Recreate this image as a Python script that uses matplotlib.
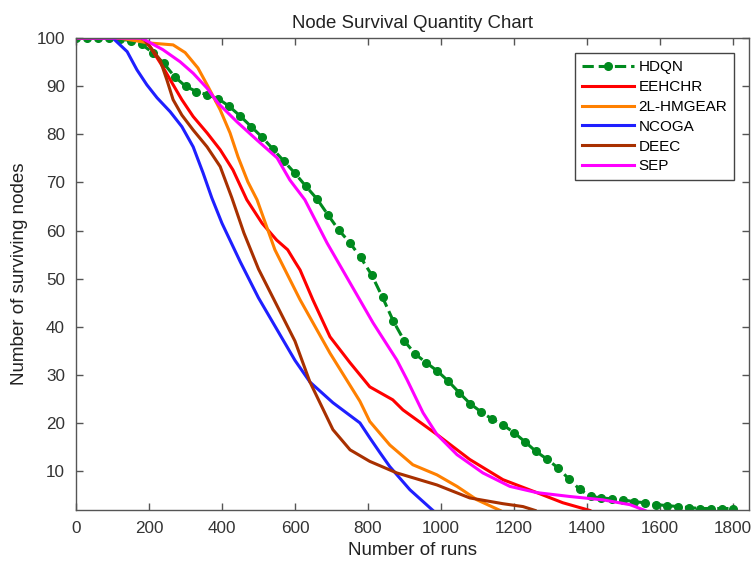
import numpy as np
import matplotlib.pyplot as plt

plt.rcParams['font.family'] = ['Liberation Sans', 'DejaVu Sans']

# HDQN sampled every 30 runs
hdqn_x = [0, 30, 60, 90, 120, 150, 180, 210, 240, 270, 300, 330, 360, 390, 420, 450,
          480, 510, 540, 570, 600, 630, 660, 690, 720, 750, 780, 810, 840, 870, 900,
          930, 960, 990, 1020, 1050, 1080, 1110, 1140, 1170, 1200, 1230, 1260, 1290,
          1320, 1350, 1380, 1410, 1440, 1470, 1500, 1530, 1560, 1590, 1620, 1650,
          1680, 1710, 1740, 1770, 1800]
hdqn_y = [100, 100, 100, 100, 99.8, 99.5, 98.7, 97.0, 94.8, 92.0, 90.0, 88.9, 88.2,
          87.4, 85.8, 83.8, 81.6, 79.4, 76.9, 74.4, 71.9, 69.2, 66.6, 63.3, 60.1,
          57.5, 54.4, 50.8, 46.1, 41.1, 37.0, 34.3, 32.5, 30.8, 28.7, 26.3, 24.0,
          22.3, 20.8, 19.6, 18.0, 16.1, 14.1, 12.5, 10.7, 8.4, 6.2, 4.7, 4.4, 4.2,
          4.0, 3.6, 3.4, 3.0, 2.8, 2.6, 2.4, 2.2, 2.2, 2.2, 2.2]

eehchr_x = [0, 180, 203, 238, 263, 290, 321, 359, 395, 430, 468, 510, 550, 580, 600,
            614, 649, 696, 751, 805, 868, 896, 989, 1079, 1170, 1263, 1334, 1408]
eehchr_y = [100, 100, 98.2, 94.0, 90.7, 87.2, 83.7, 80.3, 76.8, 72.6, 66.4, 61.5,
            58.0, 56.0, 53.5, 51.8, 45.6, 37.9, 32.5, 27.5, 24.8, 22.7, 17.6, 12.4,
            8.2, 5.5, 3.4, 1.8]

hmgear_x = [0, 120, 200, 266, 299, 334, 362, 395, 422, 444, 471, 496, 545, 614, 696,
            778, 805, 860, 923, 989, 1044, 1099, 1162]
hmgear_y = [100, 100, 99.0, 98.6, 97.0, 93.8, 89.9, 85.1, 80.3, 75.3, 70.1, 66.4,
            56.0, 45.6, 34.5, 24.5, 20.3, 15.4, 11.3, 9.2, 6.8, 4.0, 1.8]

ncoga_x = [0, 101, 140, 167, 194, 222, 258, 290, 321, 348, 372, 400, 450, 500, 550,
           600, 641, 704, 778, 805, 833, 860, 915, 978]
ncoga_y = [100, 100, 97.2, 93.4, 90.3, 87.6, 84.7, 81.6, 77.4, 72.0, 66.8, 61.5,
           53.5, 46.0, 39.5, 33.0, 28.5, 24.2, 20.0, 16.9, 13.8, 10.9, 6.1, 1.8]

deec_x = [0, 181, 203, 230, 249, 266, 290, 321, 359, 395, 427, 460, 500, 550, 600,
          641, 704, 751, 805, 879, 989, 1079, 1170, 1225, 1258]
deec_y = [100, 100.2, 98.2, 95.5, 91.3, 87.2, 84.0, 80.9, 77.4, 73.3, 66.8, 59.5,
          52.0, 44.5, 37.0, 28.5, 18.6, 14.4, 12.0, 9.6, 7.1, 4.4, 3.2, 2.6, 1.8]

sep_x = [0, 180, 238, 285, 321, 359, 389, 441, 496, 551, 586, 627, 688, 751, 814,
         879, 907, 951, 989, 1044, 1115, 1189, 1263, 1353, 1444, 1518, 1559]
sep_y = [100, 100, 97.6, 95.1, 92.7, 89.6, 86.5, 82.6, 78.8, 75.1, 70.5, 66.4,
         57.4, 49.1, 40.8, 33.1, 29.0, 22.1, 17.6, 13.4, 9.6, 6.8, 5.5, 4.7, 4.0,
         3.0, 1.8]

fig = plt.figure(figsize=(7.53, 5.61), dpi=100)
ax = fig.add_axes([0.101, 0.091, 0.894, 0.841])

ax.plot(hdqn_x, hdqn_y, '--o', color='#008a1e', lw=2.2, ms=5.5, label='HDQN')
ax.plot(eehchr_x, eehchr_y, color='#ff0000', lw=2.2, label='EEHCHR')
ax.plot(hmgear_x, hmgear_y, color='#ff8000', lw=2.2, label='2L-HMGEAR')
ax.plot(ncoga_x, ncoga_y, color='#1f1fff', lw=2.2, label='NCOGA')
ax.plot(deec_x, deec_y, color='#a83000', lw=2.2, label='DEEC')
ax.plot(sep_x, sep_y, color='#ff00ff', lw=2.2, label='SEP')

ax.set_xlim(0, 1845)
ax.set_ylim(1.9, 100)
ax.set_xticks(np.arange(0, 1801, 200))
ax.set_yticks(np.arange(10, 101, 10))
ax.tick_params(direction='in', top=True, right=True, length=5, width=1,
               color='#555555', labelsize=12.3, labelcolor='#333333', pad=8)
for s in ax.spines.values():
    s.set_color('#555555')
    s.set_linewidth(1)

ax.set_title('Node Survival Quantity Chart', fontsize=13.4, color='#222222', pad=7)
ax.set_xlabel('Number of runs', fontsize=13.5, color='#222222', labelpad=4)
ax.set_ylabel('Number of surviving nodes', fontsize=13.5, color='#222222', labelpad=6)

leg = ax.legend(loc='upper right', fontsize=11, fancybox=False, framealpha=1,
                edgecolor='#444444', borderaxespad=1.0, handlelength=3.4,
                numpoints=1, labelspacing=0.38, handletextpad=0.3,
                borderpad=0.45)
leg.get_frame().set_linewidth(1)

fig.savefig('out.png', dpi=100)
